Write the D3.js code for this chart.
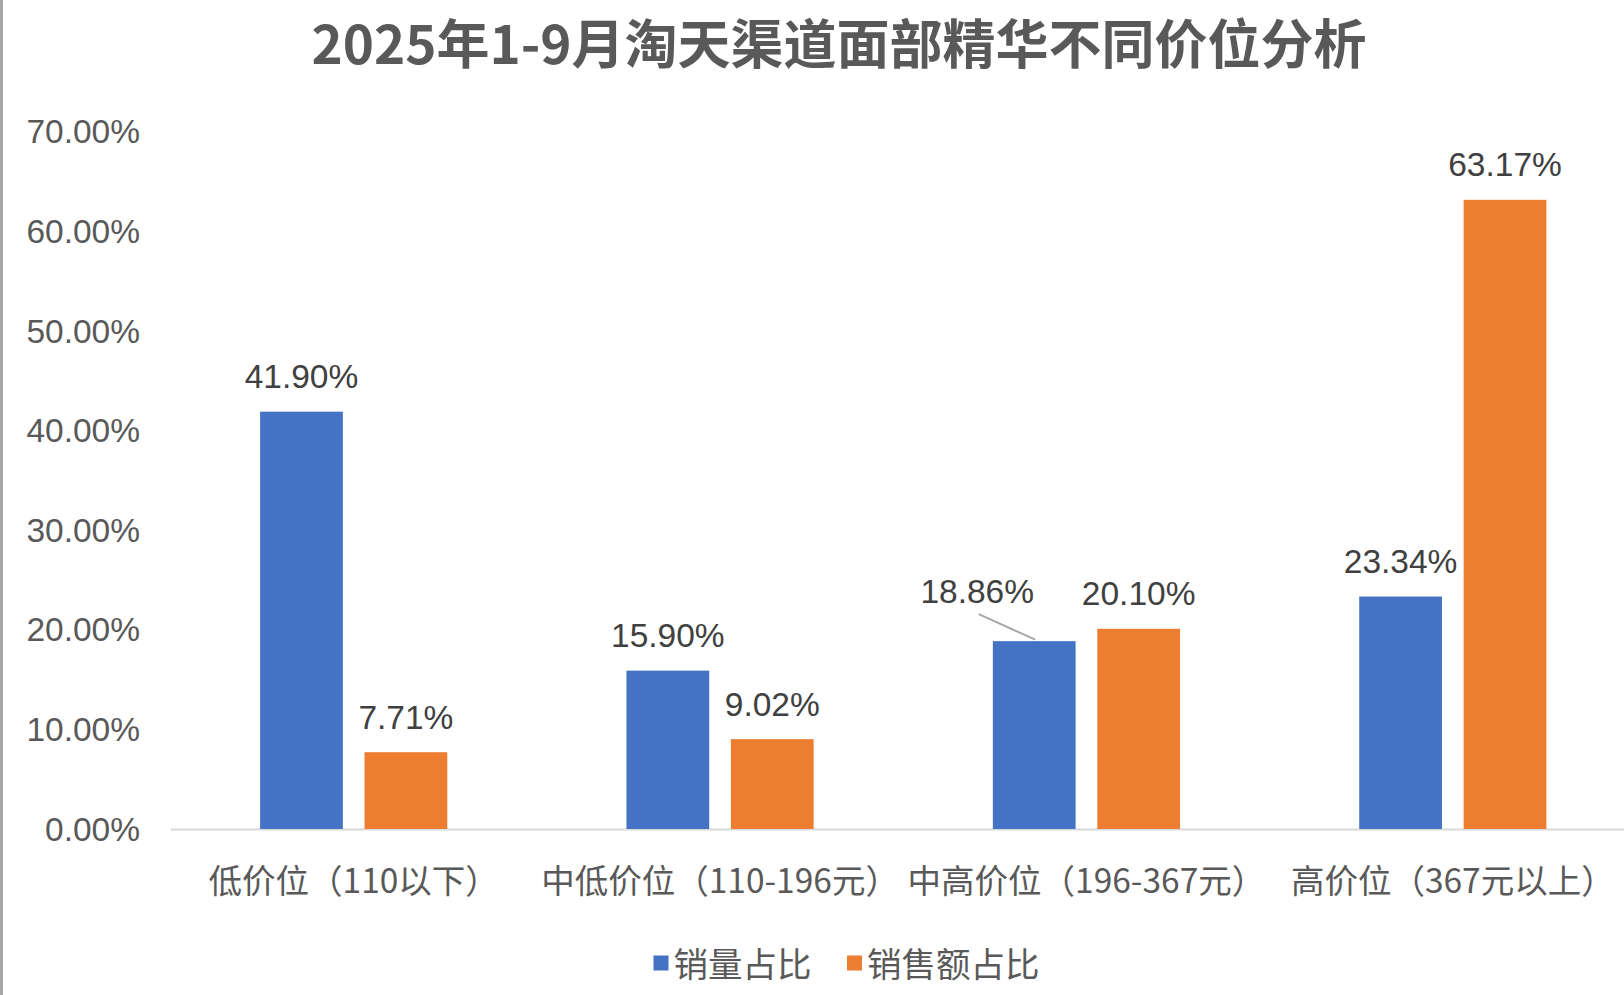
<!DOCTYPE html>
<html>
<head>
<meta charset="utf-8">
<script src="https://cdn.jsdelivr.net/npm/d3@7"></script>
<style>
  html, body { margin: 0; padding: 0; background: #ffffff; }
  svg { display: block; }
</style>
</head>
<body>
<svg id="chart" width="1624" height="995"></svg>
<script>
const title = "2025年1-9月淘天渠道面部精华不同价位分析";
const categories = ["低价位（110以下）", "中低价位（110-196元）", "中高价位（196-367元）", "高价位（367元以上）"];
const seriesNames = ["销量占比", "销售额占比"];
const salesVolumeShare = [41.90, 15.90, 18.86, 23.34];
const salesAmountShare = [7.71, 9.02, 20.10, 63.17];
const yTicks = [0, 10, 20, 30, 40, 50, 60, 70];
const colors = ["#4472C4", "#ED7D31"];

const svg = d3.select("#chart");
const W = 1624, H = 995;
const plotLeft = 170.5, plotRight = 1636, plotTop = 131.8, plotBottom = 829;

svg.append("rect").attr("x", 0).attr("y", 0).attr("width", W).attr("height", H).attr("fill", "#fff");
// left border line
svg.append("rect").attr("x", 0).attr("y", 0).attr("width", 3).attr("height", H).attr("fill", "#a6a6a6");

const numFont = "'Liberation Sans', Arial, sans-serif";
const cjkFont = "'Noto Sans CJK SC', 'Liberation Sans', sans-serif";

// Title
svg.append("text")
  .attr("x", 839).attr("y", 41)
  .attr("text-anchor", "middle").attr("dominant-baseline", "central")
  .attr("font-family", cjkFont).attr("font-weight", 700).attr("font-size", 53)
  .attr("fill", "#595959")
  .text(title);

const y = d3.scaleLinear().domain([0, 70]).range([plotBottom, plotTop]);
const x0 = d3.scaleBand().domain(categories).range([plotLeft, plotRight]).padding(0);
const x1 = d3.scaleBand().domain(seriesNames).range([0, x0.bandwidth()])
  .paddingInner(0.2077).paddingOuter(0.858);

// Y axis labels (no line)
const yAxis = d3.axisLeft(y).tickValues(yTicks).tickFormat(d => d.toFixed(2) + "%").tickSize(0).tickPadding(0);
const yg = svg.append("g").attr("transform", `translate(140,0)`).call(yAxis);
yg.select(".domain").remove();
yg.selectAll("text")
  .attr("font-family", numFont).attr("font-size", 33.5).attr("fill", "#595959")
  .attr("dy", "0.33em");

// X axis line + labels
const xAxis = d3.axisBottom(x0).tickSize(0).tickPadding(0);
const xg = svg.append("g").attr("transform", `translate(0,${plotBottom})`).call(xAxis);
xg.select(".domain").attr("stroke", "#d9d9d9").attr("stroke-width", 2);
xg.selectAll("text")
  .attr("y", 52).attr("dy", "0.35em")
  .attr("font-family", cjkFont).attr("font-size", 33.5).attr("fill", "#595959");

// Bars
const data = categories.map((c, i) => ({
  cat: c,
  vals: [
    { s: seriesNames[0], v: salesVolumeShare[i], k: 0 },
    { s: seriesNames[1], v: salesAmountShare[i], k: 1 }
  ]
}));

const groups = svg.append("g").selectAll("g").data(data).join("g")
  .attr("transform", d => `translate(${x0(d.cat)},0)`);

groups.selectAll("rect").data(d => d.vals).join("rect")
  .attr("x", d => x1(d.s))
  .attr("y", d => y(d.v))
  .attr("width", x1.bandwidth())
  .attr("height", d => y(0) - y(d.v))
  .attr("fill", d => colors[d.k]);

// Data labels
groups.each(function(d, gi) {
  const g = d3.select(this);
  d.vals.forEach(p => {
    let cx = x1(p.s) + x1.bandwidth() / 2;
    let cy = y(p.v) - 35;
    const moved = (gi === 2 && p.k === 0);
    if (moved) {
      // label displaced with a leader line
      const bx = cx, by = y(p.v);
      cx = cx - 57; cy = cy - 15;
      g.append("line")
        .attr("x1", cx + 1.5).attr("y1", cy + 23)
        .attr("x2", bx + 1).attr("y2", by - 1.5)
        .attr("stroke", "#a6a6a6").attr("stroke-width", 2);
    }
    g.append("text")
      .attr("x", cx).attr("y", cy)
      .attr("text-anchor", "middle").attr("dominant-baseline", "central")
      .attr("font-family", numFont).attr("font-size", 33.5).attr("fill", "#404040")
      .text(p.v.toFixed(2) + "%");
  });
});

// Legend
const legendX = [653.5, 847];
const lg = svg.append("g");
seriesNames.forEach((n, i) => {
  lg.append("rect").attr("x", legendX[i]).attr("y", 955.5).attr("width", 15).attr("height", 15).attr("fill", colors[i]);
  lg.append("text").attr("x", legendX[i] + 20).attr("y", 962).attr("dominant-baseline", "central")
    .attr("font-family", cjkFont).attr("font-size", 34.5).attr("fill", "#595959").text(n);
});
</script>
</body>
</html>
